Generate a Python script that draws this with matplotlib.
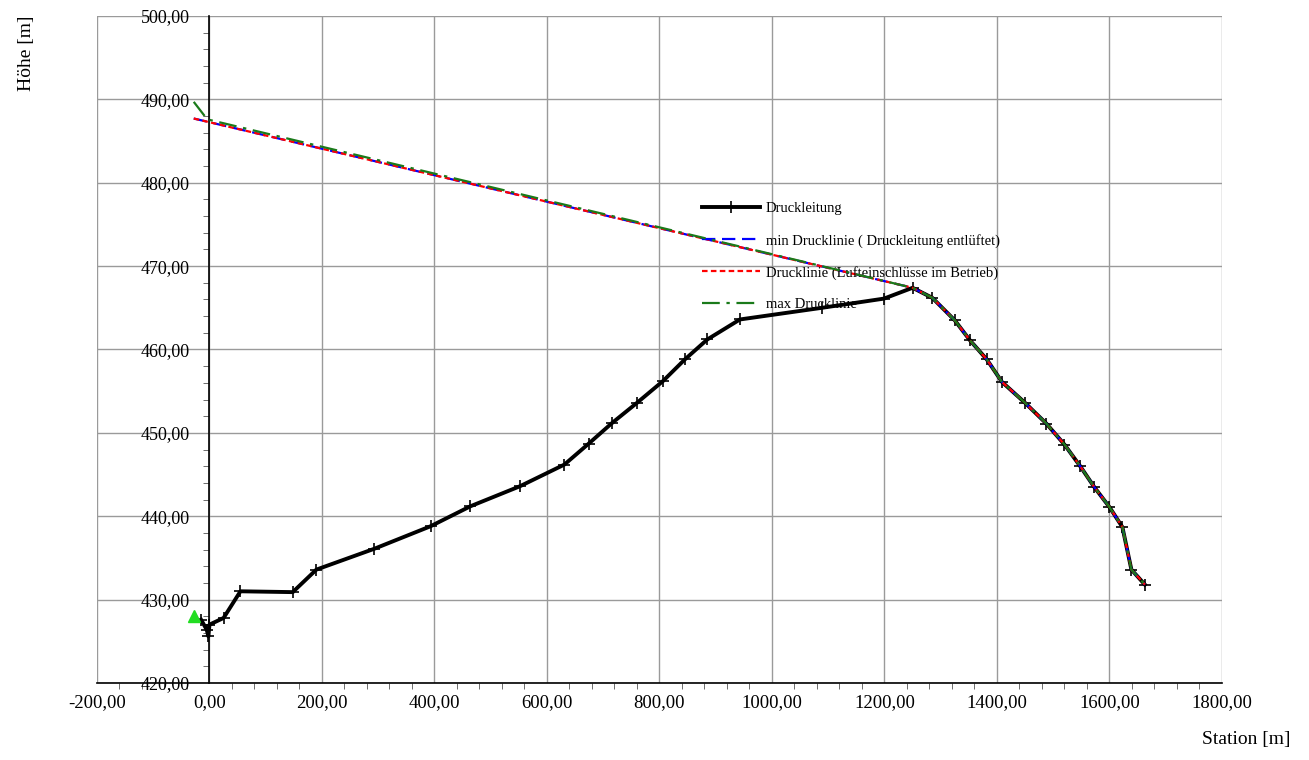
import numpy as np
import matplotlib.pyplot as plt
from matplotlib.ticker import FuncFormatter, MultipleLocator

plt.rcParams['font.family'] = ['Liberation Serif', 'DejaVu Serif']

# Druckleitung (pipe profile)
station = [-15, -5, -2, 0, 25, 55, 148, 190, 293, 393, 464, 552, 631, 674, 716,
           760, 806, 845, 885, 943, 1089, 1199, 1250, 1285, 1325, 1352, 1382,
           1409, 1450, 1488, 1520, 1548, 1573, 1600, 1623, 1639, 1663]
hoehe = [427.6, 426.4, 425.6, 427.0, 427.8, 431.0, 430.9, 433.6, 436.1, 438.8,
         441.2, 443.6, 446.2, 448.7, 451.2, 453.6, 456.2, 458.8, 461.2, 463.6,
         465.0, 466.1, 467.4, 466.2, 463.5, 461.1, 458.8, 456.1, 453.6, 451.1,
         448.6, 446.0, 443.5, 441.1, 438.7, 433.6, 431.8]

# Drucklinien: straight to the high point, then along the pipe
dl_station = [-28] + station[22:]
dl_hoehe = [487.7] + hoehe[22:]
max_station = [-28, -4] + station[22:]
max_hoehe = [489.7, 487.6] + hoehe[22:]

pump_x = [-28]
pump_y = [428.0]

fig = plt.figure(figsize=(13.09, 7.6), dpi=100)
ax = fig.add_axes([0.0741, 0.1013, 0.8594, 0.8777])

ax.plot(station, hoehe, color='black', lw=2.8, marker='+', ms=9, mew=1.2,
        label='Druckleitung', zorder=3)
ax.plot(dl_station, dl_hoehe, color='blue', lw=1.6, ls=(0, (6, 3)),
        label='min Drucklinie ( Druckleitung entlüftet)', zorder=4)
ax.plot(dl_station, dl_hoehe, color='red', lw=1.6, ls=(0, (2.5, 1.5)),
        label='Drucklinie (Lufteinschlüsse im Betrieb)', zorder=5)
ax.plot(max_station, max_hoehe, color='#1a7a1a', lw=1.6, ls=(0, (8, 3, 1.5, 3)),
        label='max Drucklinie', zorder=6)
ax.plot(pump_x, pump_y, marker='^', color='#22dd22', ms=9, ls='none', zorder=7)

ax.set_xlim(-200, 1800)
ax.set_ylim(420, 500)
ax.xaxis.set_major_locator(MultipleLocator(200))
ax.xaxis.set_minor_locator(MultipleLocator(40))
ax.yaxis.set_major_locator(MultipleLocator(10))
ax.yaxis.set_minor_locator(MultipleLocator(2))

fmt = FuncFormatter(lambda v, p: ('%.2f' % v).replace('.', ','))
ax.xaxis.set_major_formatter(fmt)
ax.yaxis.set_major_formatter(fmt)

ax.spines['left'].set_position(('data', 0))
ax.spines['top'].set_visible(False)
ax.spines['right'].set_visible(False)
ax.spines['left'].set_linewidth(1.2)
ax.spines['bottom'].set_linewidth(1.2)

ax.grid(True, which='major', color='#9a9a9a', lw=1.0)
ax.set_axisbelow(True)
ax.tick_params(axis='x', which='major', length=0, labelsize=13.5, pad=8)
ax.tick_params(axis='y', which='major', length=0, labelsize=13, pad=14)
ax.tick_params(which='minor', length=4, color='#555555')

fig.text(0.020, 0.930, 'Höhe [m]', rotation=90, fontsize=14, va='center', ha='center')
fig.text(0.986, 0.016, 'Station [m]', fontsize=14, ha='right', va='bottom')

ax.legend(loc='upper left', bbox_to_anchor=(0.536, 0.734), bbox_transform=fig.transFigure,
          frameon=False, fontsize=10.5, handlelength=4.0, handletextpad=0.4,
          labelspacing=1.25, borderpad=0, borderaxespad=0, numpoints=1)

fig.savefig('out.png', dpi=100)
